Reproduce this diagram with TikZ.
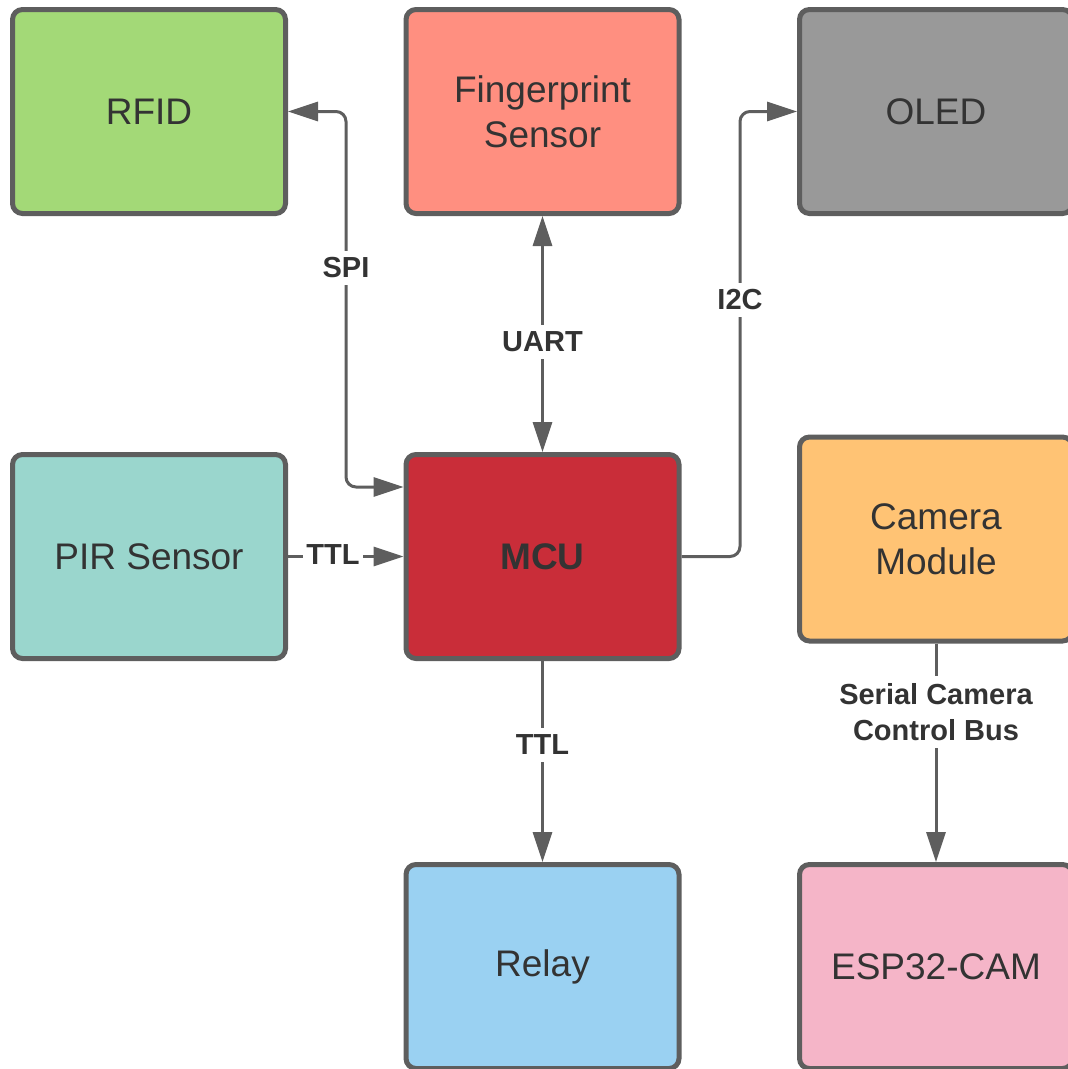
\documentclass[tikz,border=0pt]{standalone}
\usepackage{fontspec}
\setmainfont{Liberation Sans}
\usetikzlibrary{arrows.meta}
\definecolor{txt}{HTML}{333333}
\definecolor{edge}{HTML}{5E5E5E}
\definecolor{cRFID}{HTML}{A3D977}
\definecolor{cFP}{HTML}{FF8F80}
\definecolor{cOLED}{HTML}{999999}
\definecolor{cPIR}{HTML}{9AD6CD}
\definecolor{cMCU}{HTML}{C92D39}
\definecolor{cCAM}{HTML}{FFC374}
\definecolor{cRELAY}{HTML}{9AD1F2}
\definecolor{cESP}{HTML}{F5B5C8}
\tikzset{
  blockbox/.style={draw=edge, line width=5pt, rounded corners=10pt,
    minimum width=273pt, minimum height=204pt, inner sep=0pt,
    align=center, text=txt, font=\fontsize{37}{45}\selectfont},
  conn/.style={draw=edge, line width=3pt, rounded corners=10pt},
  tipend/.style={-{Triangle[length=30pt,width=19pt]}},
  tipboth/.style={{Triangle[length=30pt,width=19pt]}-{Triangle[length=30pt,width=19pt]}},
  lbl/.style={fill=white, text=txt, inner xsep=3pt, inner ysep=7pt, align=center,
    font=\bfseries\fontsize{29}{36}\selectfont}
}
\begin{document}
\begin{tikzpicture}[x=1pt,y=-1pt]
\useasboundingbox (0,0) rectangle (1068,1069);
\node[blockbox, fill=cRFID] (rfid) at (149,111.5) {RFID};
\node[blockbox, fill=cFP] (fp) at (542.5,111.5) {Fingerprint\\Sensor};
\node[blockbox, fill=cOLED] (oled) at (936,111.5) {OLED};
\node[blockbox, fill=cPIR] (pir) at (149,556.5) {PIR Sensor};
\node[blockbox, fill=cMCU, font=\bfseries\fontsize{37}{45}\selectfont] (mcu) at (542.5,556.5) {MCU};
\node[blockbox, fill=cCAM] (cam) at (936,539) {Camera\\Module};
\node[blockbox, fill=cRELAY] (relay) at (542.5,966.5) {Relay};
\node[blockbox, fill=cESP] (esp) at (936,966.5) {ESP32-CAM};

\coordinate (spiA) at (346,111.5);
\coordinate (spiB) at (346,487);
\draw[conn, tipboth] (rfid.east) -- (spiA) -- (spiB) -- (mcu.west |- spiB);
\draw[conn, tipboth] (fp.south) -- (mcu.north);
\coordinate (i2cA) at (740,556.5);
\coordinate (i2cB) at (740,111.5);
\draw[conn, tipend] (mcu.east) -- (i2cA) -- (i2cB) -- (oled.west);
\draw[conn, tipend] (pir.east) -- (mcu.west);
\draw[conn, tipend] (mcu.south) -- (relay.north);
\draw[conn, tipend] (cam.south) -- (esp.north);

\node[lbl] (lspi) at (346,268) {SPI};
\node[lbl] (luart) at (542.5,342) {UART};
\node[lbl] (li2c) at (740,300) {I2C};
\node[lbl] (lttl1) at (333,555) {TTL};
\node[lbl] (lttl2) at (542.5,745) {TTL};
\node[lbl] (lscb) at (936,712) {Serial Camera\\Control Bus};
\end{tikzpicture}
\end{document}
